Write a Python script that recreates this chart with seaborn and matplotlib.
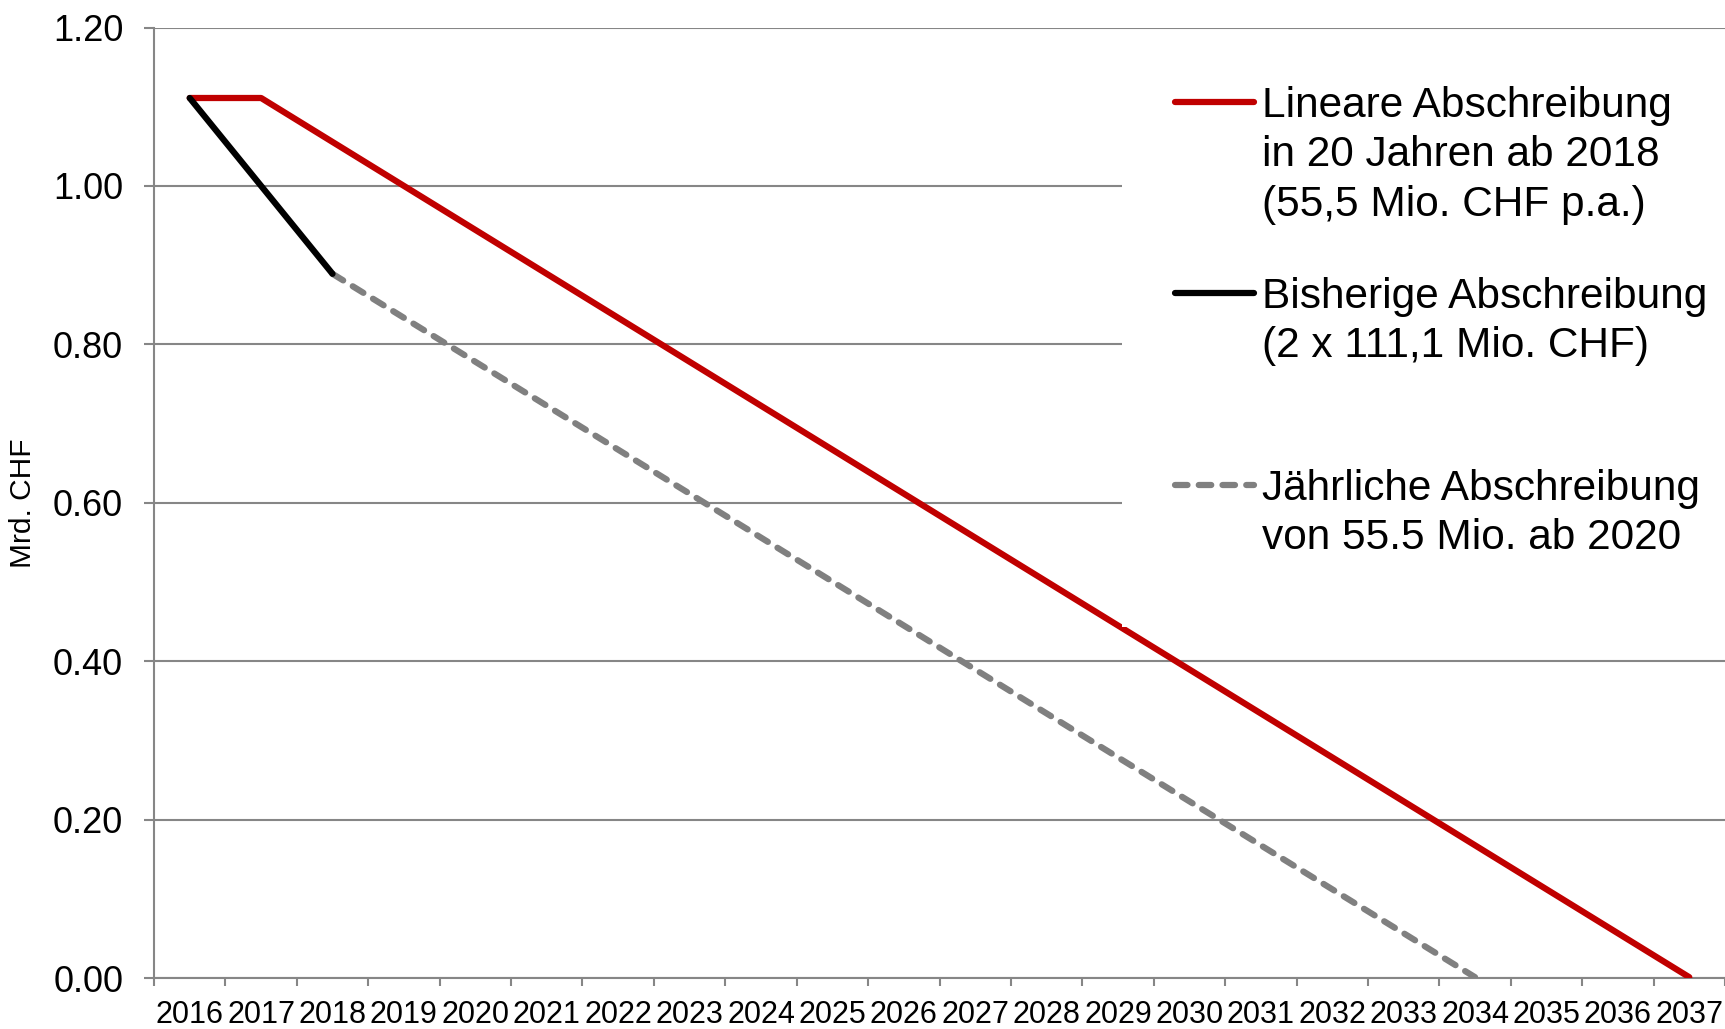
import numpy as np
import pandas as pd
import matplotlib
matplotlib.use("Agg")
import matplotlib.pyplot as plt
from matplotlib.lines import Line2D
from matplotlib.patches import Rectangle
import seaborn as sns

# Years on the category axis
years = [2016, 2017, 2018, 2019, 2020, 2021, 2022, 2023, 2024, 2025, 2026,
         2027, 2028, 2029, 2030, 2031, 2032, 2033, 2034, 2035, 2036, 2037]

# Linear depreciation over 20 years from 2018 (Mrd. CHF)
linear_years = years
linear_values = [1.111, 1.111, 1.0555, 1.000, 0.9445, 0.889, 0.8335, 0.778,
                 0.7225, 0.667, 0.6115, 0.556, 0.5005, 0.445, 0.3895, 0.334,
                 0.2785, 0.223, 0.1675, 0.112, 0.0565, 0.001]

# Previous depreciation (2 x 111.1 Mio. CHF)
prev_years = [2016, 2017, 2018]
prev_values = [1.111, 1.000, 0.889]

# Annual depreciation of 55.5 Mio.
annual_years = [2018, 2019, 2020, 2021, 2022, 2023, 2024, 2025, 2026, 2027,
                2028, 2029, 2030, 2031, 2032, 2033, 2034]
annual_values = [0.889, 0.8335, 0.778, 0.7225, 0.667, 0.6115, 0.556, 0.5005,
                 0.445, 0.3895, 0.334, 0.2785, 0.223, 0.1675, 0.112, 0.0565,
                 0.001]

y_ticks = [0.0, 0.2, 0.4, 0.6, 0.8, 1.0, 1.2]

linear_label = ["Lineare Abschreibung", "in 20 Jahren ab 2018",
                "(55,5 Mio. CHF p.a.)"]
prev_label = ["Bisherige Abschreibung", "(2 x 111,1 Mio. CHF)"]
annual_label = ["Jährliche Abschreibung", "von 55.5 Mio. ab 2020"]

RED = "#C00000"
BLACK = "#000000"
GRAY = "#808080"
GRID = "#868686"

sns.set_theme(style="white")
plt.rcParams["font.family"] = ["Liberation Sans", "DejaVu Sans"]
plt.rcParams["text.color"] = "black"

W, H = 1725, 1029
fig = plt.figure(figsize=(W / 100, H / 100), dpi=100)
ax = fig.add_axes([154 / W, 1 - 978 / H, 1 - 154 / W, (978 - 27.5) / H])

pos = {y: i for i, y in enumerate(years)}

def frame(yrs, vals):
    return pd.DataFrame({"x": [pos[y] for y in yrs], "v": vals})

lw = 4.5
dash = (2.0, 1.8)
sns.lineplot(data=frame(linear_years, linear_values), x="x", y="v", ax=ax,
             color=RED, lw=lw, solid_capstyle="round", solid_joinstyle="round",
             zorder=3)
sns.lineplot(data=frame(prev_years, prev_values), x="x", y="v", ax=ax,
             color=BLACK, lw=lw, solid_capstyle="round", zorder=4)
sns.lineplot(data=frame(annual_years, annual_values), x="x", y="v", ax=ax,
             color=GRAY, lw=lw, dashes=False, zorder=3)
# dashed style for the annual series
ax.lines[-1].set_dashes(dash)
ax.lines[-1].set_dash_capstyle("round")

ax.set_xlim(-0.5, len(years) - 0.5)
ax.set_ylim(0, 1.2)

# category ticks at boundaries, labels at centres
ax.set_xticks(np.arange(-0.5, len(years), 1.0))
ax.set_xticklabels([])
ax.set_xticks(np.arange(len(years)), labels=[str(y) for y in years], minor=True)
ax.tick_params(axis="x", which="major", direction="out", length=6, width=1.5,
               color=GRID, bottom=True)
ax.tick_params(axis="x", which="minor", length=0, pad=15.5, labelsize=22,
               labelcolor="black")

ax.set_yticks(y_ticks, labels=[f"{v:.2f}" for v in y_ticks])
ax.tick_params(axis="y", direction="out", length=7.2, width=1.5, color=GRID,
               pad=15, labelsize=26, labelcolor="black", left=True)

ax.yaxis.grid(True, color=GRID, lw=1.5)
ax.xaxis.grid(False)
ax.set_axisbelow(True)
for s in ["top", "right"]:
    ax.spines[s].set_visible(False)
for s in ["left", "bottom"]:
    ax.spines[s].set_color(GRID)
    ax.spines[s].set_linewidth(1.5)

ax.set_xlabel("")
ax.set_ylabel("Mrd. CHF", fontsize=21.5, color="black")
ax.yaxis.set_label_coords(-0.0745, 0.50)

# white legend area over the upper right of the plot
ax.add_patch(Rectangle((1122 / W, 1 - 627 / H), (W - 1122) / W, (627 - 30) / H,
                       transform=fig.transFigure, facecolor="white",
                       edgecolor="none", clip_on=False, zorder=5))

blank = Line2D([], [], color="none", lw=0)

def legend_group(handle, lines, top_px):
    handles = [handle] + [blank] * (len(lines) - 1)
    leg = fig.legend(handles, lines, loc="upper left",
                     bbox_to_anchor=(1175 / W, 1 - top_px / H),
                     fontsize=30.5, frameon=False, borderpad=0,
                     borderaxespad=0, labelspacing=0.224,
                     handlelength=1.87, handletextpad=0.19)
    for t in leg.get_texts():
        t.set_color("black")
    return leg

legend_group(Line2D([], [], color=RED, lw=lw, solid_capstyle="round"),
             linear_label, 86)
legend_group(Line2D([], [], color=BLACK, lw=lw, solid_capstyle="round"),
             prev_label, 277)
legend_group(Line2D([], [], color=GRAY, lw=lw, dashes=dash,
                    dash_capstyle="round"),
             annual_label, 469)

fig.savefig("out.png", dpi=100, facecolor="white")
